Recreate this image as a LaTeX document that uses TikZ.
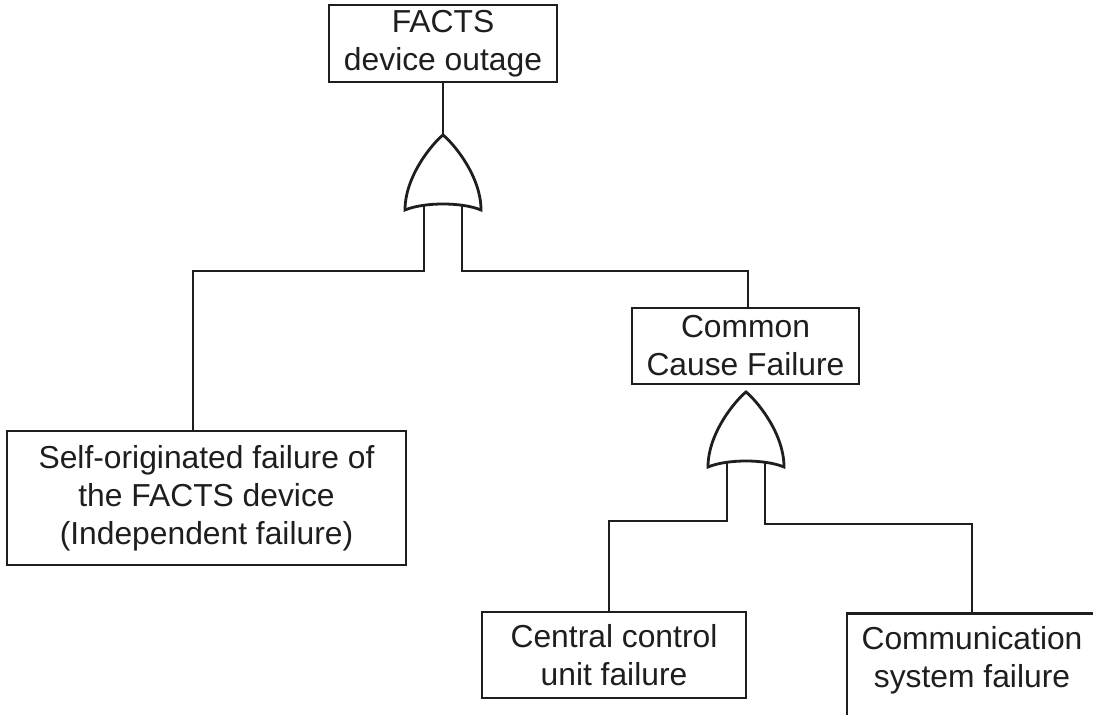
\documentclass[tikz,border=0pt]{standalone}
\usepackage{fontspec}
\setmainfont{Liberation Sans}
\definecolor{ink}{HTML}{1E1E1E}
\begin{document}
\begin{tikzpicture}[x=1pt,y=-1pt,
  line width=2.8pt, draw=ink,
  event/.style={draw=ink, line width=2.9pt, inner sep=0pt, align=center,
                text=ink, font=\fontsize{31.8}{38}\selectfont},
  label text/.style={inner sep=0pt, align=center, text=ink,
                font=\fontsize{31.8}{38}\selectfont},
  orgate/.pic={
    \draw[draw=ink, fill=white, line width=2.8pt]
      (0,0) .. controls (-9,7) and (-38,40) .. (-38,75)
            .. controls (-19,67) and (19,67) .. (38,75)
            .. controls (38,40) and (9,7) .. (0,0) -- cycle;
    \coordinate (-apex) at (0,0);
    \coordinate (-in1) at (-19,70);
    \coordinate (-in2) at (19,70);
  }]
\useasboundingbox (0,0) rectangle (1093,715);

% events
\node[event, minimum width=228pt, minimum height=77pt] (top) at (443,43.5)
  {FACTS\\device outage};
\node[event, minimum width=399pt, minimum height=134pt] (indep) at (206.5,498)
  {Self-originated failure of\\the FACTS device\\(Independent failure)};
\node[event, minimum width=227pt, minimum height=76pt] (common) at (745.5,346)
  {Common\\Cause Failure};
\node[event, minimum width=264pt, minimum height=86pt] (central) at (614,655)
  {Central control\\unit failure};
\node[event, minimum width=250pt, minimum height=106pt, anchor=north] (comm) at (972,612) {};
\node[label text] (commtext) at (972,660) {Communication\\system failure};

% OR gates
\pic (g1) at (443,135) {orgate};
\pic (g2) at (746,392) {orgate};

% junctions of the connector runs
\coordinate (j1) at (193,271);
\coordinate (j2) at (748,271);
\coordinate (j3) at (609,521);
\coordinate (j4) at (972,524);

% connectors
\draw[ink] (top.south -| g1-apex) -- (g1-apex);
\draw[ink] (g1-in1) |- (j1) -- (j1 |- indep.north);
\draw[ink] (g1-in2) |- (j2) -- (j2 |- common.north);
\draw[ink] (g2-in1) |- (j3) -- (j3 |- central.north);
\draw[ink] (g2-in2) |- (j4) -- (j4 |- comm.north);
\end{tikzpicture}
\end{document}
